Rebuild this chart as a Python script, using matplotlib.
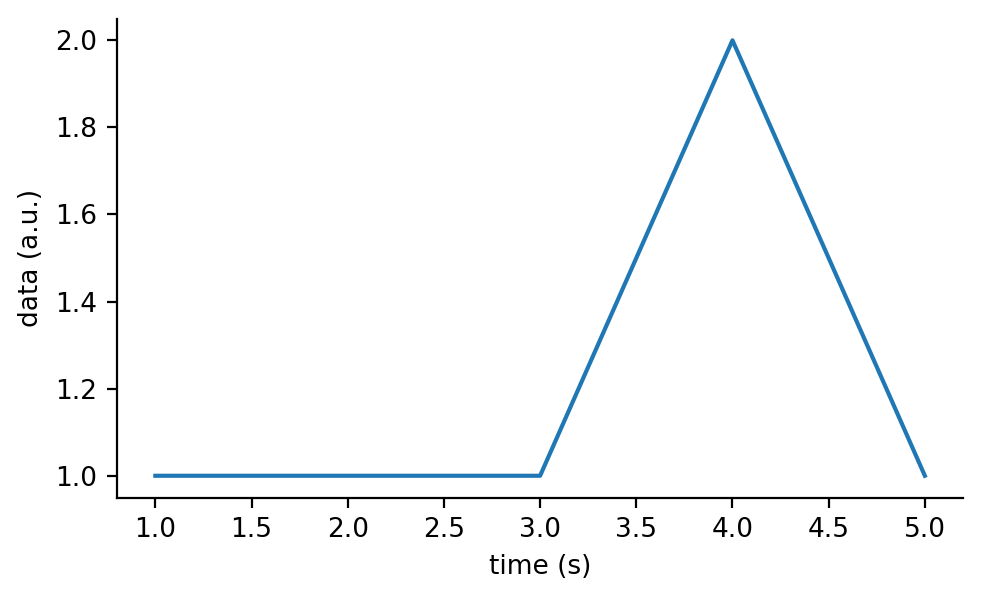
import matplotlib.pyplot as plt

# data
time = [1, 2, 3, 4, 5]
data = [1, 1, 1, 2, 1]

plt.rcParams['font.size'] = 9.5

fig, ax = plt.subplots(figsize=(4.91, 2.99), dpi=200)
fig.subplots_adjust(left=0.119, right=0.981, top=0.969, bottom=0.168)

ax.plot(time, data, color='#1f77b4', linewidth=1.5)
ax.set_xlabel('time (s)')
ax.set_ylabel('data (a.u.)')

ax.spines['top'].set_visible(False)
ax.spines['right'].set_visible(False)

fig.savefig('out.png', dpi=200)
